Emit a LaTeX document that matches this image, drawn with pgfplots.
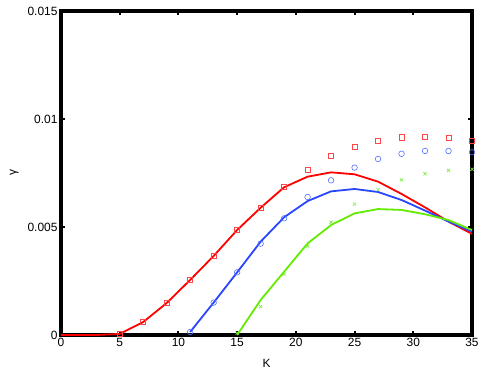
\documentclass[border=0pt]{standalone}
\usepackage{pgfplots}
\pgfplotsset{compat=1.18}
\usepackage{fontspec}
\setmainfont{Liberation Sans}
\definecolor{lred}{RGB}{255,0,0}
\definecolor{lblue}{RGB}{40,70,255}
\definecolor{lgreen}{RGB}{100,235,0}
\definecolor{mred}{RGB}{255,70,70}
\definecolor{mblue}{RGB}{80,110,255}
\definecolor{mgreen}{RGB}{120,235,60}
\begin{document}
\begin{tikzpicture}
\begin{axis}[
name=ax,
scale only axis,
width=411bp,
height=324bp,
xmin=0, xmax=35,
ymin=0, ymax=0.015,
clip=false,
xtick={0,5,10,15,20,25,30,35},
ytick={0,0.005,0.01,0.015},
yticklabels={0,0.005,0.01,0.015},
scaled y ticks=false,
tick align=inside,
major tick length=4bp,
tick style={line width=2bp,black},
xlabel={K},
ylabel={γ},
ylabel style={font=\fontsize{12}{14}\selectfont, yshift=2bp},
xlabel style={font=\fontsize{12}{14}\selectfont, yshift=-5bp},
ticklabel style={font=\fontsize{12}{14}\selectfont},
/pgf/number format/assume math mode=true,
]
% heavy frame, as in the original figure (under the curves)
\draw[black, line width=3.2bp] (rel axis cs:0,0) rectangle (rel axis cs:1,1);
% markers
\addplot[only marks, mark=square, mark size=2.6bp, mred, mark options={line width=0.6bp}] coordinates {
(5,0.00005) (7,0.0006) (9,0.00148) (11,0.00255) (13,0.00366) (15,0.00486) (17,0.00589) (19,0.00687) (21,0.00765) (23,0.00829) (25,0.00872) (27,0.009) (29,0.00915) (31,0.00918) (33,0.00912) (35,0.00898)};
\addplot[only marks, mark=o, mark size=2.8bp, mblue, mark options={line width=0.6bp}] coordinates {
(11,0.00014) (13,0.0015) (15,0.0029) (17,0.00423) (19,0.0054) (21,0.00639) (23,0.00716) (25,0.00775) (27,0.00815) (29,0.00839) (31,0.00852) (33,0.00852) (35,0.00846)};
\addplot[only marks, mark=x, mark size=2.3bp, mgreen, mark options={line width=0.6bp}] coordinates {
(15,0.0001) (17,0.00131) (19,0.00281) (21,0.00412) (23,0.00522) (25,0.00606) (27,0.00673) (29,0.00718) (31,0.00747) (33,0.00762) (35,0.00767)};
% lines
\addplot[lred, line width=1.8bp] coordinates {
(0,0) (1,0) (3,0) (5,0.00005) (7,0.0006) (9,0.00148) (11,0.00255) (13,0.00366) (15,0.00486) (17,0.00589) (19,0.00684) (21,0.00733) (23,0.00753) (25,0.00744) (27,0.0071) (29,0.00653) (31,0.00591) (33,0.00525) (35,0.00468)};
\addplot[lblue, line width=1.8bp] coordinates {
(11,0.00014) (13,0.0015) (15,0.0029) (17,0.00432) (19,0.00545) (21,0.0062) (23,0.00665) (25,0.00676) (27,0.00662) (29,0.00625) (31,0.00576) (33,0.00525) (35,0.00478)};
\addplot[lgreen, line width=1.8bp] coordinates {
(15,0) (17,0.00162) (19,0.00293) (21,0.00424) (23,0.00509) (25,0.00563) (27,0.00583) (29,0.00579) (31,0.00559) (33,0.00532) (35,0.00486)};
\end{axis}
\pgfresetboundingbox
\path[use as bounding box] ([shift={(-61bp,-36bp)}]ax.south west) rectangle ([shift={(11bp,11bp)}]ax.north east);
\end{tikzpicture}
\end{document}
